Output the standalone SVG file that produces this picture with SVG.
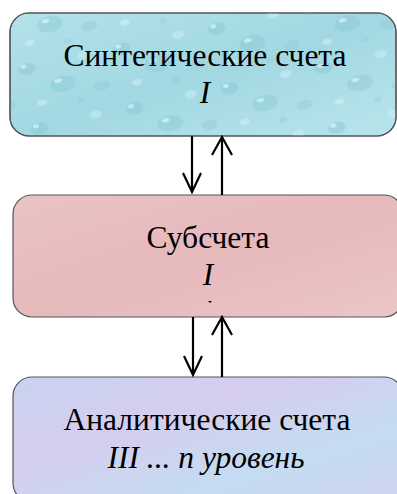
<svg xmlns="http://www.w3.org/2000/svg" width="397" height="494" viewBox="0 0 397 494">
<style>
.box{stroke:#555;stroke-width:1.2}
.t{font-family:"Liberation Serif","Times New Roman",serif;font-size:31.5px;fill:#000;text-anchor:middle}
.i{font-style:italic}
.con{stroke:#000;stroke-width:2.2;fill:none}
</style>
<defs>
<linearGradient id="g1" x1="0" y1="0" x2="1" y2="1">
<stop offset="0" stop-color="#b3e2ea"/><stop offset="0.5" stop-color="#a2d8e2"/><stop offset="1" stop-color="#b9e5ec"/>
</linearGradient>
<pattern id="drops" width="97" height="61" patternUnits="userSpaceOnUse" patternTransform="rotate(-12)">
<ellipse cx="12" cy="12" rx="9" ry="6" fill="#88c6d3" opacity="0.45"/>
<ellipse cx="9" cy="9" rx="3" ry="2" fill="#eaf8fb" opacity="0.6"/>
<ellipse cx="44" cy="34" rx="13" ry="8" fill="#88c6d3" opacity="0.4"/>
<ellipse cx="40" cy="30" rx="4" ry="2" fill="#eaf8fb" opacity="0.6"/>
<ellipse cx="70" cy="10" rx="6" ry="4" fill="#c9eef4" opacity="0.55"/>
<ellipse cx="82" cy="44" rx="8" ry="5" fill="#8fc9d6" opacity="0.4"/>
<ellipse cx="20" cy="48" rx="5" ry="3" fill="#d2f1f6" opacity="0.55"/>
<ellipse cx="58" cy="54" rx="4" ry="3" fill="#8fc9d6" opacity="0.35"/>
</pattern>
<linearGradient id="g2" x1="0" y1="0" x2="1" y2="1">
<stop offset="0" stop-color="#eac3c5"/><stop offset="0.5" stop-color="#e6b9bb"/><stop offset="1" stop-color="#ecc6c8"/>
</linearGradient>
<linearGradient id="g3" x1="0" y1="0" x2="1" y2="1">
<stop offset="0" stop-color="#c8d3f0"/><stop offset="0.35" stop-color="#d6cdee"/><stop offset="0.7" stop-color="#c4dcf2"/><stop offset="1" stop-color="#cfd2f0"/>
</linearGradient>
</defs>
<g id="node-synthetic">
<rect class="box" x="10" y="13" width="386" height="123" rx="19" fill="url(#g1)"/>
<rect x="10" y="13" width="386" height="123" rx="19" fill="url(#drops)"/>
<rect class="box" x="10" y="13" width="386" height="123" rx="19" fill="none"/>
<text class="t" x="205" y="66">Синтетические счета</text>
<text class="t i" x="205" y="103">I</text>
</g>
<g id="node-sub">
<rect class="box" x="13" y="195" width="390" height="122" rx="19" fill="url(#g2)"/>
<text class="t" x="208" y="248">Субсчета</text>
<text class="t i" x="208" y="285">I</text>
<path d="M208 301 L212 301 L210 303 Z" fill="#000"/>
</g>
<g id="node-analytic">
<rect class="box" x="13" y="377" width="390" height="125" rx="19" fill="url(#g3)"/>
<text class="t" x="207" y="430">Аналитические счета</text>
<text class="t i" x="206" y="468">III ... n уровень</text>
</g>
<g id="connectors">
<path class="con" d="M192 136 V192 M183 173 L192 192 L201 173"/>
<path class="con" d="M222 195 V137 M212 155 L222 137 L232 155"/>
<path class="con" d="M193 317 V375 M184 356 L193 375 L202 356"/>
<path class="con" d="M222 377 V317 M212 335 L222 317 L232 335"/>
</g>
</svg>
